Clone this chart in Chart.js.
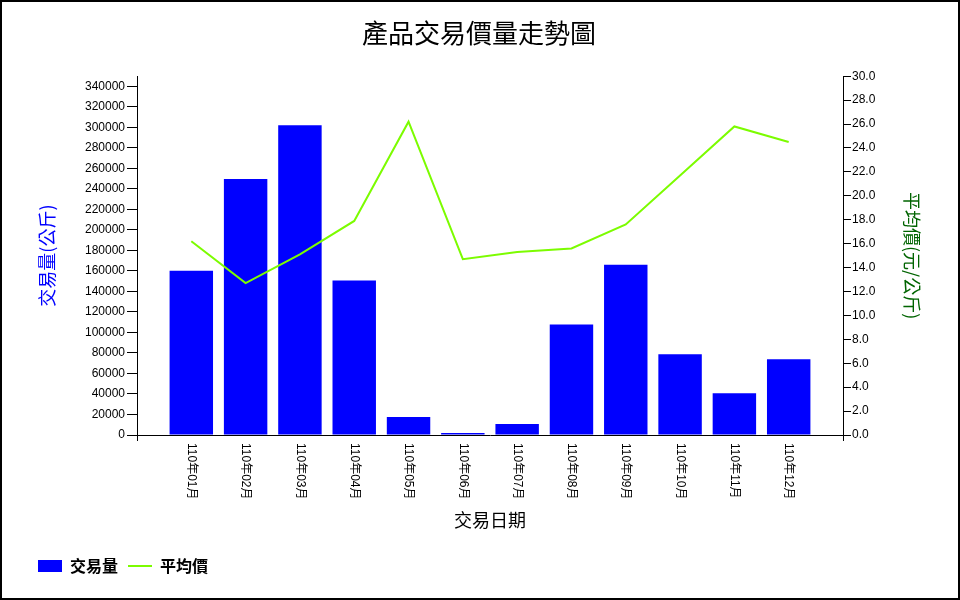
<!DOCTYPE html>
<html>
<head>
<meta charset="utf-8">
<script src="https://cdn.jsdelivr.net/npm/chart.js@4/dist/chart.umd.min.js"></script>
<style>
html,body{margin:0;padding:0;background:#fff;}
canvas{display:block;}
</style>
</head>
<body>
<canvas id="c" width="960" height="600" style="width:960px;height:600px"></canvas>
<script>
const chartTitle = '產品交易價量走勢圖';
const xTitle = '交易日期';
const yLeftTitle = '交易量(公斤)';
const yRightTitle = '平均價(元/公斤)';
const months = ['110年01月','110年02月','110年03月','110年04月','110年05月','110年06月','110年07月','110年08月','110年09月','110年10月','110年11月','110年12月'];
const volumes = [160300, 249700, 302100, 150600, 17500, 2000, 10700, 107800, 166100, 78700, 40800, 73800];
const prices = [16.2, 12.7, 15.1, 17.9, 26.2, 14.7, 15.3, 15.6, 17.6, 21.7, 25.8, 24.5];
const volumeTicks = [0, 20000, 40000, 60000, 80000, 100000, 120000, 140000, 160000, 180000, 200000, 220000, 240000, 260000, 280000, 300000, 320000, 340000];
const priceTicks = [0, 2, 4, 6, 8, 10, 12, 14, 16, 18, 20, 22, 24, 26, 28, 30];
const volumeMax = 350000;
const priceMax = 30;

const CJK = '"Noto Sans CJK TC", "Noto Sans CJK SC", sans-serif';
const LAT = '"Liberation Sans", Arial, "Noto Sans CJK TC", sans-serif';

// one empty slot at each end of the category axis
const labels = [''].concat(months, ['']);
const volData = [null].concat(volumes, [null]);
const priceData = [null].concat(prices, [null]);

const xLabelPlugin = {
  id: 'xLabels',
  afterDraw(chart) {
    const xs = chart.scales.x;
    const ctx = chart.ctx;
    ctx.save();
    ctx.font = '12px ' + LAT;
    ctx.fillStyle = '#000';
    ctx.textAlign = 'left';
    ctx.textBaseline = 'middle';
    months.forEach((m, i) => {
      const x = xs.getPixelForValue(i + 1);
      ctx.save();
      ctx.translate(x, xs.top + 8);
      ctx.rotate(Math.PI / 2);
      ctx.fillText(m, 0, 0);
      ctx.restore();
    });
    ctx.restore();
  }
};

const framePlugin = {
  id: 'frame',
  afterDraw(chart) {
    const ctx = chart.ctx;
    ctx.save();
    ctx.strokeStyle = '#000';
    ctx.lineWidth = 2;
    ctx.strokeRect(1, 1, chart.width - 2, chart.height - 2);
    ctx.restore();
  }
};

new Chart(document.getElementById('c'), {
  type: 'bar',
  data: {
    labels: labels,
    datasets: [
      {
        type: 'bar',
        label: '交易量',
        data: volData,
        backgroundColor: '#0000FF',
        borderWidth: 0,
        categoryPercentage: 1,
        barPercentage: 0.8,
        yAxisID: 'y',
        order: 1
      },
      {
        type: 'line',
        label: '平均價',
        data: priceData,
        borderColor: '#7CFC00',
        backgroundColor: '#7CFC00',
        borderWidth: 2,
        pointRadius: 0,
        tension: 0,
        fill: false,
        yAxisID: 'y1',
        order: 0
      }
    ]
  },
  plugins: [xLabelPlugin, framePlugin],
  options: {
    responsive: false,
    animation: false,
    devicePixelRatio: 1,
    layout: { padding: { left: 28, right: 30, top: 0, bottom: 16 } },
    plugins: {
      title: {
        display: true,
        text: chartTitle,
        color: '#000',
        font: { family: CJK, size: 26, weight: 'normal', lineHeight: 1.2 },
        padding: { top: 18, bottom: 27 }
      },
      legend: {
        display: true,
        position: 'bottom',
        align: 'start',
        labels: {
          usePointStyle: true,
          pointStyleWidth: 24,
          boxWidth: 24,
          boxHeight: 12,
          padding: 10,
          color: '#000',
          font: { family: CJK, size: 16, weight: 'bold', lineHeight: 1.2 },
          sort: (a, b) => a.datasetIndex - b.datasetIndex,
          generateLabels(chart) {
            const items = Chart.defaults.plugins.legend.labels.generateLabels(chart);
            items.forEach(it => { it.pointStyle = it.datasetIndex === 0 ? 'rect' : 'line'; });
            return items;
          }
        }
      },
      tooltip: { enabled: false }
    },
    scales: {
      x: {
        type: 'category',
        offset: false,
        afterFit(s) { s.height = 113; },
        ticks: { display: false, autoSkip: false },
        grid: {
          display: true,
          offset: false,
          drawOnChartArea: false,
          drawTicks: true,
          tickLength: 6,
          color: '#000',
          tickColor: (ctx) => (ctx.index === 0 || ctx.index === labels.length - 1) ? '#000' : 'rgba(0,0,0,0)'
        },
        border: { display: true, color: '#000', width: 1 },
        title: {
          display: true,
          text: xTitle,
          color: '#000',
          font: { family: CJK, size: 18, weight: 'normal', lineHeight: 1.2 },
          padding: { top: 0, bottom: 17 }
        }
      },
      y: {
        position: 'left',
        min: 0,
        max: volumeMax,
        afterFit(s) { s.width = 109; },
        afterBuildTicks(s) { s.ticks = volumeTicks.map(v => ({ value: v })); },
        ticks: {
          autoSkip: false,
          color: '#000',
          padding: 2,
          font: { family: LAT, size: 12 },
          callback: (v) => String(v)
        },
        grid: { display: true, drawOnChartArea: false, drawTicks: true, tickLength: 10, color: '#000' },
        border: { display: true, color: '#000', width: 1 },
        title: {
          display: true,
          text: yLeftTitle,
          color: '#0000FF',
          font: { family: CJK, size: 18, weight: 'normal', lineHeight: 1.2 },
          padding: { top: 8, bottom: 0 }
        }
      },
      y1: {
        position: 'right',
        min: 0,
        max: priceMax,
        afterFit(s) { s.width = 87; },
        afterBuildTicks(s) { s.ticks = priceTicks.map(v => ({ value: v })); },
        ticks: {
          autoSkip: false,
          color: '#000',
          padding: 1,
          font: { family: LAT, size: 12 },
          callback: (v) => Number(v).toFixed(1)
        },
        grid: { display: true, drawOnChartArea: false, drawTicks: true, tickLength: 8, color: '#000' },
        border: { display: true, color: '#000', width: 1 },
        title: {
          display: true,
          text: yRightTitle,
          color: '#006400',
          font: { family: CJK, size: 18, weight: 'normal', lineHeight: 1.2 },
          padding: { top: 7, bottom: 0 }
        }
      }
    }
  }
});
</script>
</body>
</html>
